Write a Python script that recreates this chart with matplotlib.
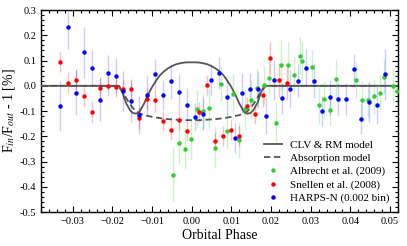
import matplotlib
matplotlib.use('Agg')
import matplotlib.pyplot as plt
from matplotlib.lines import Line2D
from matplotlib.ticker import MultipleLocator, FormatStrFormatter

# ---------------- data ----------------
# HARPS-N (0.002 bin)
harps_x = [-0.0332, -0.0312, -0.0292, -0.0272, -0.0252, -0.0232, -0.0212, -0.0192, -0.0172, -0.0152,
           -0.0132, -0.0112, -0.0092, -0.0072, -0.0052, -0.0032, -0.0012, 0.0008, 0.0028, 0.0048,
           0.0068, 0.0088, 0.0108, 0.0128, 0.0148, 0.0168, 0.0188, 0.0208, 0.0228, 0.0248,
           0.0268, 0.0288, 0.0308, 0.0328, 0.0348, 0.0368, 0.0388, 0.0408, 0.0428, 0.0448,
           0.0468, 0.0488]
harps_y = [-0.080, 0.234, -0.027, 0.132, 0.070, -0.055, 0.052, 0.040, -0.020, -0.062,
           -0.116, -0.037, 0.048, -0.036, 0.018, -0.024, -0.074, -0.124, -0.112, 0.023,
           0.050, -0.046, -0.207, -0.028, -0.014, -0.014, -0.120, 0.023, -0.050, -0.013,
           0.020, 0.072, 0.020, -0.099, -0.046, -0.051, -0.054, 0.065, -0.130, -0.063,
           -0.075, 0.045]
harps_e = [0.10, 0.09, 0.09, 0.10, 0.07, 0.085, 0.07, 0.07, 0.08, 0.08,
           0.075, 0.08, 0.06, 0.06, 0.07, 0.07, 0.065, 0.055, 0.063, 0.06,
           0.063, 0.07, 0.06, 0.08, 0.063, 0.07, 0.07, 0.08, 0.063, 0.075,
           0.066, 0.073, 0.07, 0.06, 0.068, 0.065, 0.065, 0.063, 0.06, 0.08,
           0.075, 0.10]

# Snellen et al. (2008)
snel_x = [-0.0332, -0.0312, -0.0292, -0.0272, -0.0252, -0.0232, -0.0212, -0.0192, -0.0172, -0.0152,
          -0.0132, -0.0112, -0.0092, -0.0072, -0.0052, -0.0032, -0.0012, 0.0018, 0.0038, 0.0058,
          0.0078, 0.0098, 0.0118, 0.0139, 0.0159, 0.0179, 0.0198, 0.0219, 0.0239]
snel_y = [0.095, 0.012, 0.025, -0.041, -0.104, -0.008, -0.001, -0.005, -0.014, -0.014,
          -0.128, -0.052, -0.058, -0.140, -0.175, -0.134, -0.180, -0.104, 0.004, -0.219,
          -0.199, -0.175, -0.199, -0.080, -0.113, -0.037, 0.111, 0.023, 0.012]
snel_e = [0.042, 0.042, 0.042, 0.042, 0.045, 0.042, 0.04, 0.04, 0.04, 0.04,
          0.045, 0.045, 0.045, 0.04, 0.04, 0.04, 0.04, 0.04, 0.04, 0.037,
          0.04, 0.04, 0.04, 0.037, 0.04, 0.047, 0.063, 0.066, 0.07]

# Albrecht et al. (2009)
albr_x = [-0.0046, -0.0032, -0.0016, -0.0002, 0.0013, 0.0028, 0.0043, 0.0058, 0.0074, 0.0088,
          0.0105, 0.0120, 0.0135, 0.0149, 0.0165, 0.0181, 0.0196, 0.0212, 0.0226, 0.0243,
          0.0257, 0.0273, 0.0278, 0.0304, 0.0320, 0.0334, 0.0349, 0.0364, 0.0413, 0.0429,
          0.0445, 0.0460, 0.0475, 0.0486, 0.0508, 0.0518]
albr_y = [-0.352, -0.225, -0.249, -0.211, -0.093, -0.100, -0.088, -0.245, 0.008, -0.178,
          -0.033, -0.215, -0.093, -0.055, -0.010, 0.003, 0.032, -0.149, 0.084, 0.082,
          0.044, 0.120, 0.098, 0.073, -0.076, -0.054, -0.096, 0.028, 0.023, -0.057,
          -0.058, -0.042, -0.028, 0.036, 0.000, -0.019]
albr_e = [0.105, 0.085, 0.08, 0.08, 0.075, 0.07, 0.08, 0.08, 0.07, 0.07,
          0.08, 0.07, 0.08, 0.075, 0.08, 0.076, 0.075, 0.085, 0.10, 0.09,
          0.075, 0.075, 0.075, 0.07, 0.075, 0.075, 0.065, 0.075, 0.07, 0.075,
          0.07, 0.07, 0.065, 0.07, 0.07, 0.07]

# CLV & RM model
clv_x = [-0.038, -0.0183, -0.0175, -0.0165, -0.0155, -0.0148, -0.014, -0.0133, -0.013, -0.012,
         -0.011, -0.010, -0.009, -0.008, -0.007, -0.006, -0.005, -0.004, -0.003, -0.002,
         -0.001, 0.0, 0.001, 0.002, 0.003, 0.004, 0.005, 0.006, 0.007, 0.008,
         0.009, 0.010, 0.011, 0.012, 0.013, 0.0133, 0.014, 0.0148, 0.0155, 0.0165,
         0.0175, 0.0183, 0.052]
clv_y = [0.0, 0.0, -0.025, -0.070, -0.098, -0.108, -0.110, -0.105, -0.098, -0.070,
         -0.035, -0.005, 0.020, 0.042, 0.057, 0.069, 0.078, 0.085, 0.089, 0.092,
         0.093, 0.093, 0.093, 0.092, 0.089, 0.085, 0.078, 0.069, 0.057, 0.042,
         0.020, -0.005, -0.035, -0.070, -0.098, -0.105, -0.110, -0.108, -0.098, -0.070,
         -0.025, 0.0, 0.0]

# Absorption model
abs_x = [-0.038, -0.0188, -0.018, -0.017, -0.016, -0.015, -0.014, -0.013, -0.012, -0.010,
         -0.008, -0.006, -0.004, -0.002, 0.0, 0.002, 0.004, 0.006, 0.008, 0.010,
         0.012, 0.013, 0.014, 0.015, 0.016, 0.017, 0.018, 0.0188, 0.052]
abs_y = [0.0, 0.0, -0.012, -0.035, -0.062, -0.085, -0.101, -0.110, -0.116, -0.123,
         -0.128, -0.132, -0.134, -0.136, -0.136, -0.136, -0.134, -0.132, -0.128, -0.123,
         -0.116, -0.110, -0.101, -0.085, -0.062, -0.035, -0.012, 0.0, 0.0]

legend_labels = ['CLV & RM model', 'Absorption model', 'Albrecht et al. (2009)',
                 'Snellen et al. (2008)', 'HARPS-N (0.002 bin)']

# ---------------- plot ----------------
plt.rcParams['font.family'] = ['Liberation Serif', 'DejaVu Serif']
plt.rcParams['mathtext.fontset'] = 'stix'

fig = plt.figure(figsize=(4.07, 2.46), dpi=100)
ax = fig.add_axes([0.1007, 0.138, 0.8771, 0.821])

model_col = '#555555'
ax.plot(clv_x, clv_y, color=model_col, lw=1.3, zorder=3)
ax.plot(abs_x, abs_y, color=model_col, lw=1.3, ls=(0, (3.5, 2)), zorder=3)

green = '#33cc33'
for xs, ys, es, col, a in [(albr_x, albr_y, albr_e, green, 0.25),
                           (snel_x, snel_y, snel_e, 'red', 0.25),
                           (harps_x, harps_y, harps_e, 'blue', 0.2)]:
    line, caps, bars = ax.errorbar(xs, ys, yerr=es, fmt='o', color=col, ms=3.2,
                                   mew=0, elinewidth=1.0, capsize=2.5, capthick=1.0,
                                   zorder=4)
    for c in caps:
        c.set_alpha(a)
    for b in bars:
        b.set_alpha(a)

ax.set_xlim(-0.038, 0.052)
ax.set_ylim(-0.5, 0.3)
ax.xaxis.set_major_locator(MultipleLocator(0.01))
ax.xaxis.set_minor_locator(MultipleLocator(0.002))
ax.yaxis.set_major_locator(MultipleLocator(0.1))
ax.yaxis.set_minor_locator(MultipleLocator(0.02))
ax.yaxis.set_major_formatter(FormatStrFormatter('%.1f'))
ax.tick_params(which='both', direction='in', top=True, right=True, labelsize=7.5, width=0.8)
ax.tick_params(which='major', length=4)
ax.tick_params(which='minor', length=2)
for s in ax.spines.values():
    s.set_linewidth(1.0)

ax.set_xlabel('Orbital Phase', fontsize=10, labelpad=2)
ax.set_ylabel(r'F$_{in}$/F$_{out}$ - 1 [%]', fontsize=10, labelpad=2)

handles = [Line2D([], [], color=model_col, lw=1.3),
           Line2D([], [], color=model_col, lw=1.3, ls=(0, (3.5, 2))),
           Line2D([], [], color=green, marker='o', ms=3.2, mew=0, ls='none'),
           Line2D([], [], color='red', marker='o', ms=3.2, mew=0, ls='none'),
           Line2D([], [], color='blue', marker='o', ms=3.2, mew=0, ls='none')]
ax.legend(handles, legend_labels, loc='lower right', frameon=False, fontsize=8,
          handlelength=1.6, handletextpad=0.7, labelspacing=0.3, borderaxespad=0.4)

fig.savefig('out.png', dpi=100)
